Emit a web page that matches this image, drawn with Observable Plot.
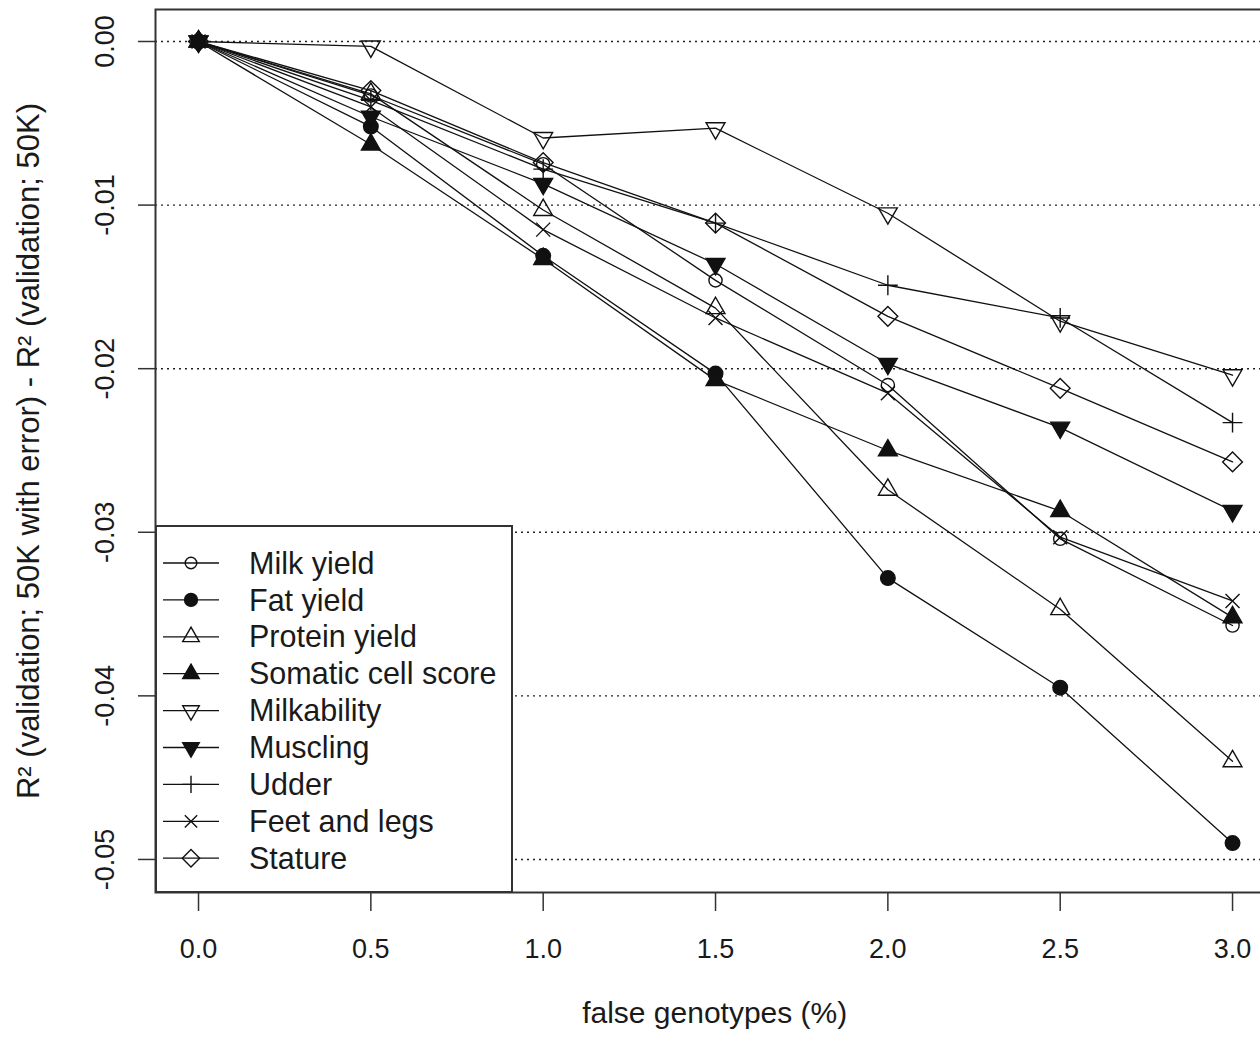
<!DOCTYPE html>
<html><head><meta charset="utf-8">
<script src="https://cdn.jsdelivr.net/npm/d3@7"></script>
<script src="https://cdn.jsdelivr.net/npm/@observablehq/plot@0.6"></script>
<style>
html,body{margin:0;padding:0;background:#fff;}
#wrap{position:relative;width:1260px;height:1037px;overflow:hidden;}
#wrap > svg{display:block;max-width:none !important;width:1280px !important;height:1037px !important;}
#legend{position:absolute;left:155px;top:525px;}
</style></head><body><div id="wrap"></div>
<script>
// ---------- data ----------
const falseGenotypes = [0, 0.5, 1.0, 1.5, 2.0, 2.5, 3.0];
const traitNames = ["Milk yield", "Fat yield", "Protein yield", "Somatic cell score", "Milkability", "Muscling", "Udder", "Feet and legs", "Stature"];
const milkYield   = [0, -0.0033, -0.0075, -0.0146, -0.0210, -0.0304, -0.0357];
const fatYield    = [0, -0.0052, -0.0131, -0.0203, -0.0328, -0.0395, -0.0490];
const proteinYield= [0, -0.0032, -0.0103, -0.0163, -0.0274, -0.0347, -0.0440];
const somaticCell = [0, -0.0063, -0.0133, -0.0207, -0.0250, -0.0287, -0.0352];
const milkability = [0, -0.0003, -0.0059, -0.0053, -0.0105, -0.0171, -0.0204];
const muscling    = [0, -0.0046, -0.0087, -0.0136, -0.0197, -0.0236, -0.0287];
const udder       = [0, -0.0036, -0.0078, -0.0111, -0.0149, -0.0169, -0.0233];
const feetLegs    = [0, -0.0040, -0.0115, -0.0169, -0.0215, -0.0303, -0.0342];
const stature     = [0, -0.0030, -0.0074, -0.0111, -0.0168, -0.0212, -0.0257];
const xTicks = [0, 0.5, 1.0, 1.5, 2.0, 2.5, 3.0];
const yTicks = [0, -0.01, -0.02, -0.03, -0.04, -0.05];
const xTitle = "false genotypes (%)";
const yTitle = "R\u00B2 (validation; 50K with error) - R\u00B2 (validation; 50K)";

// ---------- R-like symbols ----------
const TRC0 = Math.sqrt(4 * Math.PI / (3 * Math.sqrt(3)));
const TRC1 = TRC0 * Math.sqrt(3) / 2, TRC2 = TRC0 / 2;
const rad = s => Math.sqrt(s / Math.PI);
const symCircle = {draw(c, s) { const r = rad(s); c.moveTo(r, 0); c.arc(0, 0, r, 0, 2 * Math.PI); c.closePath(); }};
const symTriUp = {draw(c, s) { const R = rad(s), r = TRC0 * R, xc = TRC1 * R, yc = TRC2 * R;
  c.moveTo(0, -r); c.lineTo(xc, yc); c.lineTo(-xc, yc); c.closePath(); }};
const symTriDown = {draw(c, s) { const R = rad(s), r = TRC0 * R, xc = TRC1 * R, yc = TRC2 * R;
  c.moveTo(0, r); c.lineTo(xc, -yc); c.lineTo(-xc, -yc); c.closePath(); }};
const symDiamond = {draw(c, s) { const x = Math.SQRT2 * rad(s);
  c.moveTo(0, -x); c.lineTo(x, 0); c.lineTo(0, x); c.lineTo(-x, 0); c.closePath(); }};
const symPlus = {draw(c, s) { const x = Math.SQRT2 * rad(s);
  c.moveTo(-x, 0); c.lineTo(x, 0); c.moveTo(0, -x); c.lineTo(0, x); }};
const symTimes = {draw(c, s) { const x = rad(s);
  c.moveTo(-x, -x); c.lineTo(x, x); c.moveTo(x, -x); c.lineTo(-x, x); }};

const seriesValues = [milkYield, fatYield, proteinYield, somaticCell, milkability, muscling, udder, feetLegs, stature];
const seriesSymbols = [symCircle, symCircle, symTriUp, symTriUp, symTriDown, symTriDown, symPlus, symTimes, symDiamond];
const seriesFilled = [false, true, false, true, false, true, false, false, false];
const seriesRadius = [6.6, 7.3, 7, 7, 7, 7, 7, 7, 7];

const series = traitNames.map((name, k) => ({name, values: seriesValues[k], symbol: seriesSymbols[k], filled: seriesFilled[k], r: seriesRadius[k]}));
const rows = series.flatMap(s => falseGenotypes.map((x, i) => ({trait: s.name, x, y: s.values[i]})));

const ink = "#111";
const font = "'Liberation Sans', Arial, Helvetica, sans-serif";

const chart = Plot.plot({
  width: 1280, height: 1037,
  marginLeft: 155, marginRight: 6.6, marginTop: 9, marginBottom: 145,
  x: {domain: [-0.1248, 3.12]},
  y: {domain: [-0.05202, 0.001956]},
  style: {fontFamily: font, fontSize: "27px", color: "#1a1a1a", background: "#fff", maxWidth: "none"},
  marks: [
    Plot.ruleY(yTicks, {stroke: "#222", strokeDasharray: "2,4", strokeWidth: 1.4}),
    Plot.line(rows, {x: "x", y: "y", z: "trait", stroke: ink, strokeWidth: 1.3}),
    ...series.map(s => Plot.dot(rows.filter(d => d.trait === s.name), {
      x: "x", y: "y", symbol: s.symbol, r: s.r,
      fill: s.filled ? ink : "none", stroke: ink, strokeWidth: 1.4
    })),
    Plot.frame({stroke: "#333", strokeWidth: 2}),
    Plot.axisX({ticks: xTicks, tickSize: 19, tickPadding: 27, tickFormat: d => d.toFixed(1), fontSize: 27, label: null, stroke: "#333", strokeWidth: 1.5}),
    Plot.axisY({ticks: yTicks, tickSize: 17, tickFormat: () => "", label: null, stroke: "#333", strokeWidth: 1.5}),
    Plot.text(yTicks, {y: d => d, frameAnchor: "left", dx: -50, rotate: -90, textAnchor: "middle", lineAnchor: "middle", text: d => d.toFixed(2), fontSize: 27, fill: "#1a1a1a"}),
    Plot.text([xTitle], {frameAnchor: "bottom", dy: 121, textAnchor: "middle", lineAnchor: "middle", text: d => d, fontSize: 30, fill: "#1a1a1a"}),
    Plot.text([yTitle], {frameAnchor: "left", dx: -126, rotate: -90, textAnchor: "middle", lineAnchor: "middle", text: d => d, fontSize: 31, fill: "#1a1a1a"})
  ]
});
const wrap = document.getElementById("wrap");
wrap.appendChild(chart);

// ---------- legend (inside plot area, bottom-left) ----------
const lw = 358, lh = 368;
const leg = d3.select(wrap).append("svg").attr("id", "legend").attr("width", lw).attr("height", lh);
leg.append("rect").attr("x", 1).attr("y", 1).attr("width", lw - 2).attr("height", lh - 2)
  .attr("fill", "#fff").attr("stroke", "#333").attr("stroke-width", 2);
const row = leg.selectAll("g").data(series).join("g")
  .attr("transform", (d, i) => `translate(0,${38 + i * 36.9})`);
row.append("line").attr("x1", 8).attr("x2", 64).attr("stroke", ink).attr("stroke-width", 1.3);
row.append("path").attr("transform", "translate(36,0)")
  .attr("d", d => d3.symbol(d.symbol, Math.PI * (d.r * 0.88) ** 2)())
  .attr("fill", d => d.filled ? ink : "none").attr("stroke", ink).attr("stroke-width", 1.4);
row.append("text").attr("x", 94).attr("dy", "0.35em").attr("font-family", font).attr("font-size", 30.5)
  .attr("fill", "#1a1a1a").text(d => d.name);
</script></body></html>
